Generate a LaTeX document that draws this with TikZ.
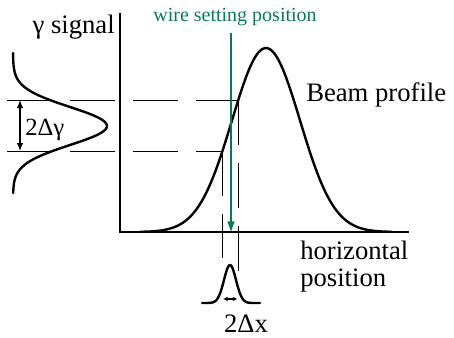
\documentclass[tikz,border=0pt]{standalone}
\usepackage{fontspec}
\setmainfont{Liberation Serif}
\usetikzlibrary{arrows.meta}
\definecolor{wiregreen}{HTML}{0B7A52}

\begin{document}
\begin{tikzpicture}[x=0.75pt, y=-0.75pt,
  curve/.style={line width=1.8pt, line join=round, line cap=round},
  axis/.style={line width=1.5pt},
  guide/.style={line width=0.6pt, dash pattern=on 33.75pt off 13.5pt},
  wire/.style={wiregreen, line width=1.5pt, -{Triangle[length=8pt,width=5pt]}},
  span/.style={line width=1pt, {Latex[length=6pt,width=5pt]}-{Latex[length=6pt,width=5pt]}},
  lbl/.style={inner sep=0pt, font=\fontsize{20}{20.25}\selectfont},
]
  \useasboundingbox (0,0) rectangle (454,337);

  % axes
  \coordinate (ytop) at (120,13);
  \coordinate (origin) at (120,232);
  \coordinate (xend) at (409,232);
  \draw[axis] (ytop) -- (origin) -- (xend);

  % beam profile
  \draw[curve] plot[domain=140:392, samples=90, smooth]
    (\x, {232-184*exp(((\x-266)*(\x-266))/(-2312))});

  % projected signal on the left
  \draw[curve] plot[domain=53:193, samples=70, smooth]
    ({13+94*exp(((\x-126)*(\x-126))/(-722))}, \x);

  % wire response at the bottom
  \draw[curve] plot[domain=202:260, samples=60, smooth]
    (\x, {303-38*exp(((\x-230)*(\x-230))/(-72))});

  % guide lines
  \coordinate (upL) at (7,100);
  \coordinate (upC) at (238.3,100);
  \coordinate (upFoot) at (238.3,272);
  \coordinate (loL) at (7,151);
  \coordinate (loC) at (222.4,151);
  \coordinate (loFoot) at (222.4,258);
  \draw[guide] (upL) -- (upC);
  \draw[guide] (loL) -- (loC);
  \draw[guide] (upC) -- (upFoot);
  \draw[guide] (loC) -- (loFoot);

  % wire
  \coordinate (wiretop) at (231,33);
  \coordinate (wirefoot) at (231,232);
  \draw[wire] (wiretop) -- (wirefoot);

  % widths
  \coordinate (gtop) at (20,100);
  \coordinate (gbot) at (20,151);
  \draw[span] (gtop) -- (gbot);
  \coordinate (dxl) at (223,299);
  \coordinate (dxr) at (237.5,299);
  \draw[line width=0.8pt, {Latex[length=3.5pt,width=3.5pt]}-{Latex[length=3.5pt,width=3.5pt]}] (dxl) -- (dxr);

  % labels
  \node[lbl, anchor=base east] (ylabel) at (115,33) {γ signal};
  \node[lbl, anchor=base, text=wiregreen, font=\fontsize{15}{15}\selectfont] (wirelabel) at (235,21) {wire setting position};
  \node[lbl, anchor=base west] (beamlabel) at (306,101) {Beam profile};
  \node[lbl, anchor=north west, align=left] (xlabel) at (300,241) {horizontal\\position};
  \node[lbl, anchor=base west, font=\fontsize{18.5}{18.5}\selectfont] (dgamma) at (25,135) {2Δγ};
  \node[lbl, anchor=base] (dxlabel) at (246,332) {2Δx};
\end{tikzpicture}
\end{document}
